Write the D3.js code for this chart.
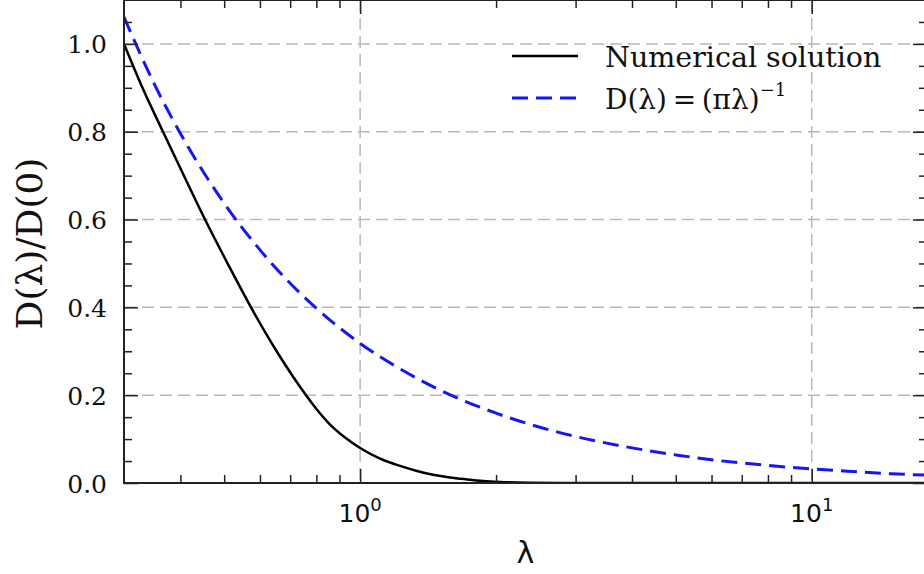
<!DOCTYPE html>
<html>
<head>
<meta charset="utf-8">
<script src="https://cdn.jsdelivr.net/npm/d3@7"></script>
<style>
  html, body { margin: 0; padding: 0; background: #fff; }
  svg { display: block; }
</style>
</head>
<body>
<svg id="chart" width="924" height="574"></svg>
<script>
// Normalised profile D(λ)/D(0): numerical solution and the (πλ)^-1 asymptote
const lambdaNum = [0.300, 0.330, 0.366, 0.4075, 0.4535, 0.510, 0.5733, 0.658, 0.759, 0.807, 0.858, 0.926, 1.0, 1.107, 1.226, 1.33, 1.45, 1.58, 1.724, 1.87, 2.041, 2.378, 2.772, 5.0, 10.0, 18.0];
const valueNum  = [1.000, 0.899, 0.800, 0.699, 0.600, 0.498, 0.400, 0.295, 0.200, 0.164, 0.133, 0.1035, 0.0796, 0.0555, 0.039, 0.028, 0.0187, 0.0125, 0.0082, 0.0048, 0.0025, 0.0005, 0.0, 0.0, 0.0, 0.0];

const lambdaAsym = [0.30, 0.35, 0.40, 0.50, 0.60, 0.70, 0.80, 1.0, 1.25, 1.5, 2.0, 2.5, 3.0, 4.0, 5.0, 6.0, 8.0, 10.0, 12.0, 15.0, 18.0];
const valueAsym  = [1.061, 0.909, 0.796, 0.637, 0.531, 0.455, 0.398, 0.318, 0.255, 0.212, 0.159, 0.127, 0.106, 0.080, 0.064, 0.053, 0.040, 0.032, 0.027, 0.021, 0.018];

const xMajorTicks = [1, 10];
const xMinorTicks = [0.4, 0.5, 0.6, 0.7, 0.8, 0.9, 2, 3, 4, 5, 6, 7, 8, 9];
const xTickExponents = ["0", "1"];
const yMajorTicks = [0.0, 0.2, 0.4, 0.6, 0.8, 1.0];
const yMinorTicks = [0.05, 0.1, 0.15, 0.25, 0.3, 0.35, 0.45, 0.5, 0.55, 0.65, 0.7, 0.75, 0.85, 0.9, 0.95, 1.05];
const legendLabels = ["Numerical solution", "D(λ)\u2009=\u2009(πλ)"];

const svg = d3.select("#chart");
const plotLeft = 124, plotRight = 927, plotTop = 0, plotBottom = 483;

const x = d3.scaleLog().domain([0.3, 18]).range([plotLeft, plotRight]);
const y = d3.scaleLinear().domain([0, 1.1]).range([plotBottom, plotTop]);

const serif = "'DejaVu Serif', serif";
const sans = "'DejaVu Sans', sans-serif";

// clip for data lines
svg.append("defs").append("clipPath").attr("id", "plotclip")
  .append("rect").attr("x", plotLeft).attr("y", plotTop)
  .attr("width", plotRight - plotLeft).attr("height", plotBottom - plotTop);

// grid
const grid = svg.append("g").attr("stroke", "#b8b8b8").attr("stroke-width", 1.5)
  .attr("stroke-dasharray", "12,6").attr("fill", "none");
yMajorTicks.forEach(v => {
  grid.append("line").attr("x1", plotLeft).attr("x2", plotRight).attr("y1", y(v)).attr("y2", y(v));
});
xMajorTicks.forEach(v => {
  grid.append("line").attr("x1", x(v)).attr("x2", x(v)).attr("y1", plotTop).attr("y2", plotBottom);
});

// lines
const lineGen = d3.line().x(d => x(d[0])).y(d => y(d[1])).curve(d3.curveMonotoneX);
const plot = svg.append("g").attr("clip-path", "url(#plotclip)");
plot.append("path")
  .datum(lambdaAsym.map((l, i) => [l, valueAsym[i]]))
  .attr("d", lineGen).attr("fill", "none").attr("stroke", "#1515f5")
  .attr("stroke-width", 3).attr("stroke-dasharray", "16,8");
plot.append("path")
  .datum(lambdaNum.map((l, i) => [l, valueNum[i]]))
  .attr("d", lineGen).attr("fill", "none").attr("stroke", "#000")
  .attr("stroke-width", 2.5);

// axes with inward ticks on all four sides
const majLen = 14, minLen = 8;
const axBottom = d3.axisBottom(x).tickValues(xMajorTicks).tickSize(-majLen).tickFormat("");
const axBottomMinor = d3.axisBottom(x).tickValues(xMinorTicks).tickSize(-minLen).tickFormat("");
const axTop = d3.axisTop(x).tickValues(xMajorTicks).tickSize(-majLen).tickFormat("");
const axTopMinor = d3.axisTop(x).tickValues(xMinorTicks).tickSize(-minLen).tickFormat("");
const axLeft = d3.axisLeft(y).tickValues(yMajorTicks).tickSize(-majLen).tickFormat(d3.format(".1f"));
const axLeftMinor = d3.axisLeft(y).tickValues(yMinorTicks).tickSize(-minLen).tickFormat("");
const axRight = d3.axisRight(y).tickValues(yMajorTicks).tickSize(-majLen).tickFormat("");
const axRightMinor = d3.axisRight(y).tickValues(yMinorTicks).tickSize(-minLen).tickFormat("");

function styleAxis(g) {
  g.selectAll(".domain").remove();
  g.selectAll(".tick line").attr("stroke", "#222").attr("stroke-width", 1.5);
}
svg.append("g").attr("transform", `translate(0,${plotBottom})`).call(axBottom).call(styleAxis);
svg.append("g").attr("transform", `translate(0,${plotBottom})`).call(axBottomMinor).call(styleAxis);
svg.append("g").attr("transform", `translate(0,${plotTop})`).call(axTop).call(styleAxis);
svg.append("g").attr("transform", `translate(0,${plotTop})`).call(axTopMinor).call(styleAxis);
const gl = svg.append("g").attr("transform", `translate(${plotLeft},0)`).call(axLeft).call(styleAxis);
gl.selectAll(".tick text").attr("x", -17).attr("dy", "0.36em")
  .attr("font-family", serif).attr("font-size", 25).attr("fill", "#111");
svg.append("g").attr("transform", `translate(${plotLeft},0)`).call(axLeftMinor).call(styleAxis);
svg.append("g").attr("transform", `translate(${plotRight},0)`).call(axRight).call(styleAxis);
svg.append("g").attr("transform", `translate(${plotRight},0)`).call(axRightMinor).call(styleAxis);

// spines
svg.append("rect").attr("x", plotLeft).attr("y", plotTop)
  .attr("width", plotRight - plotLeft).attr("height", plotBottom - plotTop)
  .attr("fill", "none").attr("stroke", "#222").attr("stroke-width", 2);

// x tick labels 10^n
xMajorTicks.forEach((v, i) => {
  const t = svg.append("text").attr("x", x(v)).attr("y", plotBottom + 39)
    .attr("text-anchor", "middle").attr("font-family", sans).attr("font-size", 25).attr("fill", "#111");
  t.append("tspan").text("10");
  t.append("tspan").text(xTickExponents[i]).attr("font-size", 18).attr("dy", -11);
});

// axis labels
svg.append("text").attr("x", (plotLeft + plotRight) / 2).attr("y", 563).attr("text-anchor", "middle")
  .attr("font-family", sans).attr("font-size", 30).attr("fill", "#111").text("λ");
svg.append("text").attr("transform", `translate(42,${(plotTop + plotBottom) / 2 + 2}) rotate(-90)`)
  .attr("text-anchor", "middle").attr("font-family", serif).attr("font-size", 36).attr("fill", "#111")
  .text("D(λ)/D(0)");

// legend
const lg = svg.append("g");
lg.append("line").attr("x1", 512).attr("x2", 578).attr("y1", 56).attr("y2", 56)
  .attr("stroke", "#000").attr("stroke-width", 2.5);
lg.append("line").attr("x1", 512).attr("x2", 578).attr("y1", 98).attr("y2", 98)
  .attr("stroke", "#1515f5").attr("stroke-width", 3).attr("stroke-dasharray", "16,8");
lg.append("text").attr("x", 605).attr("y", 57).attr("dy", "0.36em")
  .attr("font-family", serif).attr("font-size", 28.5).attr("fill", "#111").text(legendLabels[0]);
const t2 = lg.append("text").attr("x", 605).attr("y", 99).attr("dy", "0.36em")
  .attr("font-family", serif).attr("font-size", 28).attr("fill", "#111");
t2.append("tspan").text(legendLabels[1]);
t2.append("tspan").text("−1").attr("font-size", 18).attr("dy", -13);
</script>
</body>
</html>
